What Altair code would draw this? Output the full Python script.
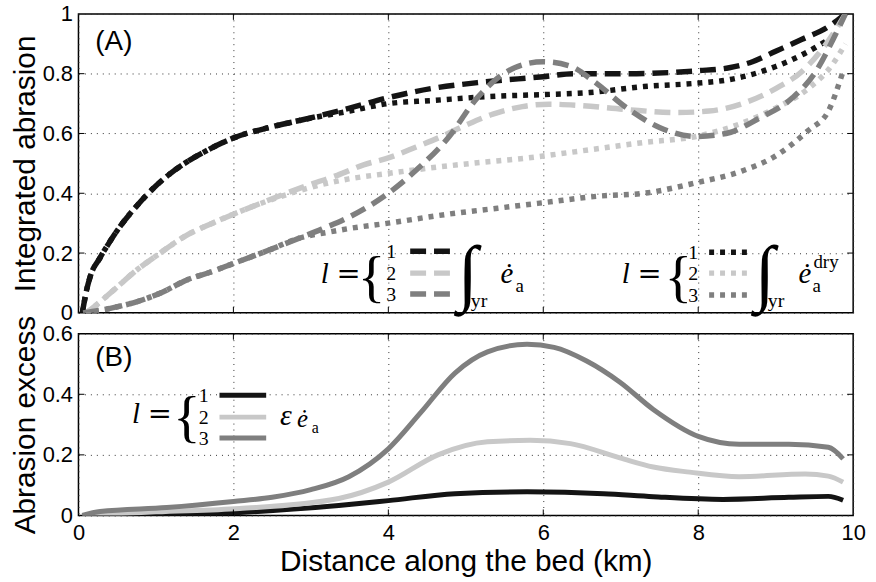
import altair as alt
import pandas as pd

# ---------------------------------------------------------------------------
# Data: distance along the bed (km) and normalised values
# ---------------------------------------------------------------------------
KM_TICKS = [0, 2, 4, 6, 8, 10]
TOP_TICKS = [0, 0.2, 0.4, 0.6, 0.8, 1]
BOT_TICKS = [0, 0.2, 0.4, 0.6]

# (A) annual integrated abrasion, full year
wet1_km = [0.05, 0.10, 0.15, 0.28, 0.41, 0.54, 0.76, 0.96, 1.18, 1.40, 1.60, 2.00, 2.46, 2.88,
           3.50, 4.00, 4.55, 5.15, 6.00, 6.40, 7.08, 8.00, 8.40, 8.70, 9.00, 9.34, 9.68, 9.90]
wet1 = [0.00, 0.07, 0.12, 0.185, 0.24, 0.29, 0.36, 0.415, 0.465, 0.505, 0.535, 0.585, 0.62, 0.645,
        0.685, 0.72, 0.75, 0.77, 0.79, 0.80, 0.80, 0.81, 0.82, 0.84, 0.875, 0.915, 0.957, 1.00]

wet2_km = [0.10, 0.20, 0.45, 0.76, 1.00, 1.40, 1.73, 2.00, 2.29, 2.68, 3.00, 3.34, 3.68, 4.02,
           4.36, 4.67, 5.00, 5.35, 5.73, 6.07, 6.46, 7.08, 7.72, 8.14, 8.57, 9.00, 9.35, 9.68, 9.90]
wet2 = [0.00, 0.02, 0.075, 0.145, 0.19, 0.26, 0.30, 0.33, 0.36, 0.40, 0.43, 0.46, 0.495, 0.52,
        0.555, 0.588, 0.628, 0.665, 0.69, 0.698, 0.694, 0.68, 0.67, 0.675, 0.70, 0.75, 0.81, 0.91, 1.00]

wet3_km = [0.06, 0.41, 0.75, 1.09, 1.40, 1.69, 2.00, 2.46, 2.85, 3.14, 3.49, 4.00, 4.35, 4.77,
           5.15, 5.41, 5.63, 6.00, 6.35, 6.65, 7.08, 7.50, 7.97, 8.36, 8.78, 9.22, 9.50, 9.77, 9.90]
wet3 = [0.00, 0.015, 0.037, 0.07, 0.11, 0.135, 0.165, 0.21, 0.25, 0.28, 0.32, 0.40, 0.475, 0.585,
        0.72, 0.785, 0.82, 0.84, 0.825, 0.775, 0.685, 0.62, 0.59, 0.60, 0.65, 0.72, 0.80, 0.93, 1.00]

# (A) annual integrated abrasion, dry part only
dry1_km = [0.05, 0.10, 0.15, 0.28, 0.41, 0.54, 0.76, 0.96, 1.18, 1.40, 1.60, 2.00, 2.46, 2.88,
           3.50, 4.00, 4.55, 5.41, 6.00, 6.60, 7.30, 7.97, 8.40, 9.00, 9.42, 9.80]
dry1 = [0.00, 0.07, 0.12, 0.185, 0.24, 0.29, 0.36, 0.415, 0.465, 0.505, 0.535, 0.585, 0.62, 0.645,
        0.675, 0.70, 0.71, 0.725, 0.73, 0.737, 0.757, 0.768, 0.78, 0.824, 0.874, 0.934]

dry2_km = [0.10, 0.20, 0.45, 0.76, 1.00, 1.40, 1.73, 2.00, 2.29, 2.68, 2.93, 3.49, 3.96, 4.55,
           5.15, 5.79, 6.44, 7.30, 7.97, 8.57, 9.00, 9.42, 9.73, 9.90]
dry2 = [0.00, 0.02, 0.075, 0.145, 0.19, 0.26, 0.30, 0.33, 0.36, 0.395, 0.415, 0.448, 0.465, 0.485,
        0.502, 0.518, 0.54, 0.57, 0.59, 0.635, 0.685, 0.75, 0.83, 0.90]

dry3_km = [0.06, 0.41, 0.75, 1.09, 1.40, 1.69, 2.00, 2.46, 2.85, 3.23, 3.49, 4.00, 4.77, 5.41,
           6.05, 6.70, 7.30, 7.97, 8.57, 9.00, 9.42, 9.68, 9.86]
dry3 = [0.00, 0.015, 0.037, 0.07, 0.11, 0.135, 0.165, 0.21, 0.25, 0.27, 0.282, 0.30, 0.33, 0.35,
        0.37, 0.39, 0.40, 0.435, 0.475, 0.525, 0.61, 0.675, 0.80]

# (B) abrasion excess
exc1_km = [0.05, 1.00, 2.08, 3.36, 4.00, 4.86, 5.79, 6.78, 7.42, 8.32, 9.17, 9.68, 9.87]
exc1 = [0.00, 0.003, 0.01, 0.033, 0.049, 0.072, 0.078, 0.072, 0.062, 0.053, 0.06, 0.063, 0.05]

exc2_km = [0.05, 1.00, 2.08, 3.36, 4.00, 4.64, 5.28, 5.83, 6.35, 6.99, 7.42, 7.89, 8.53,
           9.38, 9.68, 9.87]
exc2 = [0.00, 0.012, 0.023, 0.056, 0.11, 0.20, 0.243, 0.248, 0.237, 0.19, 0.16, 0.143, 0.128,
        0.137, 0.13, 0.11]

exc3_km = [0.05, 0.28, 1.14, 2.00, 2.50, 3.00, 3.49, 4.00, 4.42, 4.86, 5.28, 5.79, 6.14, 6.56,
           6.99, 7.42, 8.01, 8.53, 9.17, 9.68, 9.87]
exc3 = [0.00, 0.013, 0.026, 0.046, 0.06, 0.085, 0.128, 0.22, 0.34, 0.47, 0.54, 0.565, 0.555, 0.51,
        0.44, 0.35, 0.26, 0.235, 0.235, 0.225, 0.187]

# ---------------------------------------------------------------------------
# Styling
# ---------------------------------------------------------------------------
BLACK, LIGHT, DARK = "#141414", "#c8c8c8", "#7f7f7f"
DASHED, DOTTED = [16, 8], [5, 6]
W, H_TOP, H_BOT = 780, 301, 183
ORIGIN_TOP = (78, 12)
ORIGIN_BOT = (78, 334)
SERIF = "Liberation Serif"
SANS = "Liberation Sans"

one = pd.DataFrame({"k": [0]})


def frame(km, v):
    return pd.DataFrame({"km": km, "v": v})


def x_enc(labels):
    axis = alt.Axis(values=KM_TICKS, grid=True, ticks=False, domain=False,
                    labels=labels, labelFlush=False, labelPadding=7,
                    title="Distance along the bed (km)" if labels else None,
                    titlePadding=3)
    return alt.X("km:Q", scale=alt.Scale(domain=[0, 10], nice=False), axis=axis)


def y_enc(top, ticks, title):
    axis = alt.Axis(values=ticks, grid=True, ticks=False, domain=False,
                    labelExpr="format(datum.value, '~g')", labelPadding=6,
                    title=title, titlePadding=2)
    return alt.Y("v:Q", scale=alt.Scale(domain=[0, top], nice=False), axis=axis)


class Panel:
    def __init__(self, labels, top, ticks, title, height, origin):
        self.labels, self.top, self.ticks = labels, top, ticks
        self.title, self.height, self.origin = title, height, origin

    def x(self):
        return x_enc(self.labels)

    def y(self):
        return y_enc(self.top, self.ticks, self.title)

    def curve(self, km, v, color, dash, width=5.5):
        kw = dict(color=color, strokeWidth=width, interpolate="monotone", clip=True)
        if dash:
            kw["strokeDash"] = dash
        return alt.Chart(frame(km, v)).mark_line(**kw).encode(x=self.x(), y=self.y())

    def txt(self, s, px, py, size, font=SERIF, style="normal", align="left"):
        ox, oy = self.origin
        return alt.Chart(one).mark_text(
            text=s, font=font, fontSize=size, fontStyle=style, align=align,
            baseline="alphabetic", color="black").encode(
            x=alt.value(px - ox), y=alt.value(py - oy))

    def sample(self, px0, px1, py, color, dash, width=5.5):
        ox, oy = self.origin
        kw = dict(color=color, strokeWidth=width)
        if dash:
            kw["strokeDash"] = dash
        return alt.Chart(one).mark_rule(**kw).encode(
            x=alt.value(px0 - ox), x2=alt.value(px1 - ox), y=alt.value(py - oy))

    def inner_ticks(self):
        # short inward tick marks on all four sides, as in a boxed plot
        xt = pd.DataFrame({"km": KM_TICKS[1:-1]})
        yt = pd.DataFrame({"v": self.ticks[1:-1]})
        h = self.height
        rule = dict(color="black", strokeWidth=1)
        return [
            alt.Chart(xt).mark_rule(**rule).encode(x=self.x(), y=alt.value(h), y2=alt.value(h - 6)),
            alt.Chart(xt).mark_rule(**rule).encode(x=self.x(), y=alt.value(0), y2=alt.value(6)),
            alt.Chart(yt).mark_rule(**rule).encode(y=self.y(), x=alt.value(0), x2=alt.value(6)),
            alt.Chart(yt).mark_rule(**rule).encode(y=self.y(), x=alt.value(W - 6), x2=alt.value(W)),
        ]

    def brace_legend(self, x_l, base, brace_x, num_x, rows, s_x0, s_x1, colors, dash,
                     width=5.5):
        # "l = {1 2 3" followed by one line sample per row
        layers = [
            self.txt("l", x_l, base, 29, style="italic"),
            self.txt("=", x_l + 28, base, 29, font="DejaVu Serif", align="center"),
            self.txt("{", brace_x, base + 13, 58, align="center"),
        ]
        for num, row_y, color in zip(["1", "2", "3"], rows, colors):
            layers.append(self.txt(num, num_x, row_y + 7, 20, align="center"))
            layers.append(self.sample(s_x0, s_x1, row_y, color, dash, width))
        return layers

    def integral(self, cx, base):
        # tall integral sign with a "yr" subscript
        return [
            self.txt("∫", cx, base + 14, 74, align="center"),
            self.txt("yr", cx + 3, base + 24, 20),
        ]


# ---------------------------------------------------------------------------
# Panel (A)
# ---------------------------------------------------------------------------
pa = Panel(False, 1, TOP_TICKS, "Integrated abrasion", H_TOP, ORIGIN_TOP)
top_layers = [
    pa.curve(dry1_km, dry1, BLACK, DOTTED),
    pa.curve(dry2_km, dry2, LIGHT, DOTTED),
    pa.curve(dry3_km, dry3, DARK, DOTTED),
    pa.curve(wet1_km, wet1, BLACK, DASHED),
    pa.curve(wet2_km, wet2, LIGHT, DASHED),
    pa.curve(wet3_km, wet3, DARK, DASHED),
] + pa.inner_ticks() + [
    pa.txt("(A)", 95, 48, 28, font=SANS),
] + pa.brace_legend(322, 283, 373, 393, [251, 273, 294], 412, 455,
                    [BLACK, LIGHT, DARK], DASHED) + pa.integral(470, 283) + [
    pa.txt("ė", 503, 283, 29, style="italic"),
    pa.txt("a", 518, 292, 19),
] + pa.brace_legend(625, 283, 682, 697, [252, 273, 295], 713, 753,
                    [BLACK, LIGHT, DARK], DOTTED) + pa.integral(769, 283) + [
    pa.txt("ė", 803, 283, 29, style="italic"),
    pa.txt("a", 817, 292, 19),
    pa.txt("dry", 818, 268, 19),
]
panel_a = alt.layer(*top_layers).properties(width=W, height=H_TOP)

# ---------------------------------------------------------------------------
# Panel (B)
# ---------------------------------------------------------------------------
pb = Panel(True, 0.6, BOT_TICKS, "Abrasion excess", H_BOT, ORIGIN_BOT)
bot_layers = [
    pb.curve(exc1_km, exc1, BLACK, None, 5),
    pb.curve(exc2_km, exc2, LIGHT, None, 5),
    pb.curve(exc3_km, exc3, DARK, None, 5),
] + pb.inner_ticks() + [
    pb.txt("(B)", 95, 367, 28, font=SANS),
] + pb.brace_legend(132, 424, 187, 204, [396, 418, 439], 220, 267,
                    [BLACK, LIGHT, DARK], None, 5) + [
    pb.txt("ε", 281, 426, 30, style="italic"),
    pb.txt("ė", 298, 428, 25, style="italic"),
    pb.txt("a", 313, 434, 16),
]
panel_b = alt.layer(*bot_layers).properties(width=W, height=H_BOT)

chart = alt.vconcat(panel_a, panel_b, spacing=21, bounds="flush").properties(
    padding={"left": 9, "top": 0, "right": 10, "bottom": 2},
    background="white",
).configure_view(
    stroke="black", strokeWidth=1.5
).configure_axis(
    labelFont=SANS, titleFont=SANS, labelFontSize=22, titleFontSize=30,
    titleFontWeight="normal", labelColor="black", titleColor="black",
    gridColor="#333333", gridDash=[1, 5], gridWidth=1, gridOpacity=1
)

chart.save("out.html", embed_options={"renderer": "svg", "actions": False})
